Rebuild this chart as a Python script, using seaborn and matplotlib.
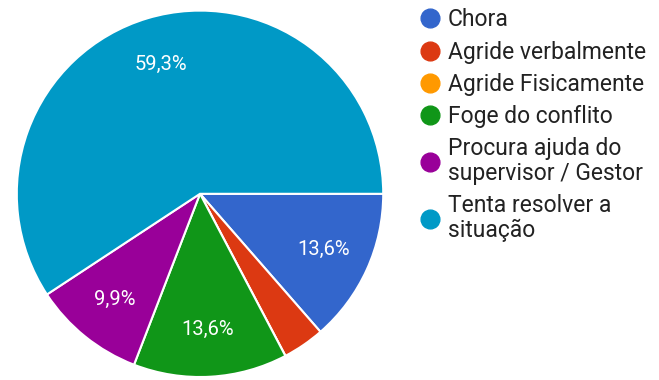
import matplotlib
matplotlib.use("Agg")
import matplotlib.pyplot as plt
from matplotlib.lines import Line2D
import seaborn as sns

categories = ["Chora", "Agride verbalmente", "Agride Fisicamente",
              "Foge do conflito", "Procura ajuda do\nsupervisor / Gestor",
              "Tenta resolver a\nsituação"]
counts = [11, 3, 0, 11, 8, 48]
colors = ["#3366cc", "#dc3912", "#ff9900", "#109618", "#990099", "#0099c6"]

sns.set_theme(style="white")
plt.rcParams["font.family"] = ["Roboto", "DejaVu Sans"]

fig = plt.figure(figsize=(6.59, 3.8), dpi=100)
ax = fig.add_axes([0.3035 - 0.2808, 0.49 - 0.487, 0.5616, 0.974])


def fmt(p):
    if p < 5:
        return ""
    return f"{p:.1f}%".replace(".", ",")


wedges, texts, autotexts = ax.pie(
    counts, colors=colors, startangle=0, counterclock=False,
    autopct=fmt, pctdistance=0.74,
    wedgeprops=dict(edgecolor="white", linewidth=1.5),
    textprops=dict(color="white", fontsize=14.5))
ax.set_aspect("equal")
ax.set_xlim(-1.01, 1.01)
ax.set_ylim(-1.01, 1.01)

handles = [Line2D([0], [0], marker="o", linestyle="none", markersize=13.5,
                  markerfacecolor=c, markeredgecolor=c) for c in colors]
leg = fig.legend(handles, categories, loc="upper left",
                 bbox_to_anchor=(0.62, 1.008), frameon=False,
                 fontsize=16.5, labelspacing=0.4, handletextpad=0.3,
                 handlelength=0.9, borderaxespad=0.1)
for t in leg.get_texts():
    t.set_color("#222222")
    t.set_linespacing(1.1)

fig.savefig("out.png", dpi=100)
